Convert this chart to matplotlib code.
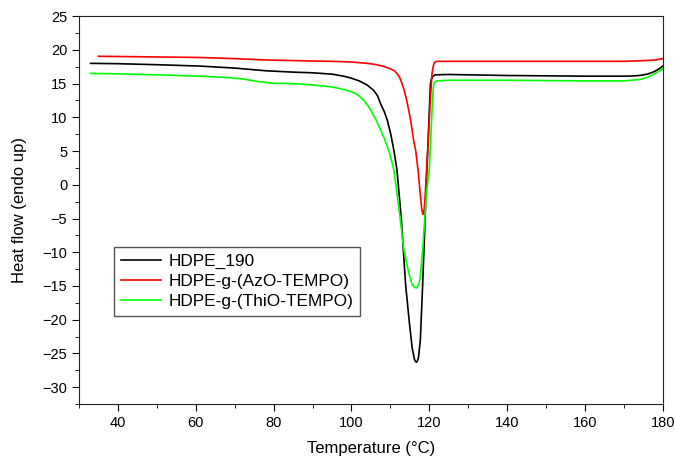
import numpy as np
import matplotlib
matplotlib.use("Agg")
import matplotlib.pyplot as plt
from matplotlib.ticker import MultipleLocator

plt.rcParams['font.family'] = ['Liberation Sans', 'DejaVu Sans']

# HDPE_190 (black)
T_hdpe = [33, 40, 50, 61, 70, 78, 85, 90, 95, 98, 100, 102, 104, 105.7, 106.7,
          107.5, 108.4, 109.2, 110.1, 110.9, 111.7, 112.8, 113.9, 114.8,
          115.6, 116.2, 116.45, 116.7, 116.95, 117.2, 117.7, 118.3, 118.8,
          119.2, 119.6, 120.0, 120.3, 120.5, 120.8, 121.2, 121.5, 125, 140,
          160, 170, 172, 174, 176, 177.5, 178.5, 179.3, 180]
hf_hdpe = [18.0, 17.95, 17.8, 17.6, 17.3, 16.9, 16.7, 16.6, 16.4, 16.1, 15.8,
           15.4, 14.8, 14.0, 13.2, 12.0, 10.9, 9.6, 7.5, 5.1, 2.2, -5.0,
           -14.7, -20.0, -24.2, -25.9, -26.2, -26.3, -26.1, -25.7, -23.0,
           -14.7, -7.0, 0.0, 5.1, 11.0, 15.0, 15.6, 16.0, 16.2, 16.3, 16.35,
           16.2, 16.1, 16.1, 16.12, 16.2, 16.4, 16.7, 17.0, 17.3, 17.6]

# HDPE-g-(AzO-TEMPO) (red)
T_azo = [35, 50, 61, 70, 78, 90, 95, 100, 104, 106, 108, 110, 111, 111.7,
         112.4, 113, 113.6, 114.2, 114.7, 115.2, 116.0, 116.5, 117.1, 117.7,
         118.1, 118.4, 118.7, 118.9, 119.3, 119.6, 120.2, 120.7, 121.0, 121.2,
         121.6, 122, 130, 140, 160, 170, 175, 178, 180]
hf_azo = [19.05, 18.95, 18.87, 18.7, 18.5, 18.35, 18.3, 18.2, 18.0, 17.85,
          17.6, 17.2, 16.9, 16.5, 15.9, 15.0, 13.9, 12.5, 11.1, 9.6, 6.5, 5.1,
          2.2, -1.5, -3.8, -4.4, -3.5, -2.0, 2.2, 5.1, 12.0, 16.5, 17.5, 18.0,
          18.25, 18.3, 18.3, 18.3, 18.3, 18.3, 18.4, 18.5, 18.7]

# HDPE-g-(ThiO-TEMPO) (green)
T_thio = [33, 40, 50, 61, 68, 72, 76, 80, 85, 90, 95, 97.5, 100, 101.7, 103.2,
          104.4, 105.5, 106.5, 107.5, 108.5, 109.5, 110.3, 110.9, 111.6,
          112.3, 113.5, 114.7, 115.6, 116.2, 116.7, 117.2, 117.6, 118.3,
          119.3, 120.0, 120.3, 120.7, 121.0, 121.2, 121.6, 122, 125, 140, 160,
          170, 174, 176, 178, 180]
hf_thio = [16.5, 16.45, 16.3, 16.1, 15.9, 15.7, 15.3, 15.05, 15.0, 14.8, 14.5,
           14.2, 13.8, 13.3, 12.5, 11.6, 10.5, 9.4, 8.1, 6.8, 5.2, 3.6, 2.2,
           -0.8, -4.0, -9.7, -13.0, -14.8, -15.2, -15.3, -14.9, -14.0, -9.7,
           -1.0, 2.2, 6.0, 11.0, 14.2, 15.0, 15.3, 15.4, 15.5, 15.5, 15.4,
           15.4, 15.6, 15.9, 16.5, 17.2]

series = [
    (T_hdpe, hf_hdpe, 'HDPE_190', 'black'),
    (T_azo, hf_azo, 'HDPE-g-(AzO-TEMPO)', 'red'),
    (T_thio, hf_thio, 'HDPE-g-(ThiO-TEMPO)', 'lime'),
]

fig = plt.figure(figsize=(6.75, 4.61), dpi=100)
ax = fig.add_axes([0.117, 0.1236, 0.865, 0.8414])

for T, hf, label, c in series:
    ax.plot(T, hf, color=c, lw=1.2, label=label)

ax.set_xlim(30, 180)
ax.set_ylim(-32.5, 25)
ax.xaxis.set_major_locator(MultipleLocator(20))
ax.xaxis.set_minor_locator(MultipleLocator(10))
ax.yaxis.set_major_locator(MultipleLocator(5))
ax.yaxis.set_minor_locator(MultipleLocator(2.5))
ax.tick_params(which='both', direction='out', top=False, right=False,
               labelsize=10.5)
ax.tick_params(which='major', length=5)
ax.tick_params(which='minor', length=3)
for s in ax.spines.values():
    s.set_color('#222222')

ax.set_xlabel("Temperature (°C)", fontsize=12, labelpad=8)
ax.set_ylabel("Heat flow (endo up)", fontsize=12, labelpad=11)

leg = ax.legend(loc='lower left', bbox_to_anchor=(0.06, 0.228),
                fontsize=12.4, fancybox=False, framealpha=1,
                borderaxespad=0, handlelength=2.3, handletextpad=0.45,
                labelspacing=0.28)
leg.get_frame().set_edgecolor('#555555')

fig.savefig("out.png", dpi=100)
